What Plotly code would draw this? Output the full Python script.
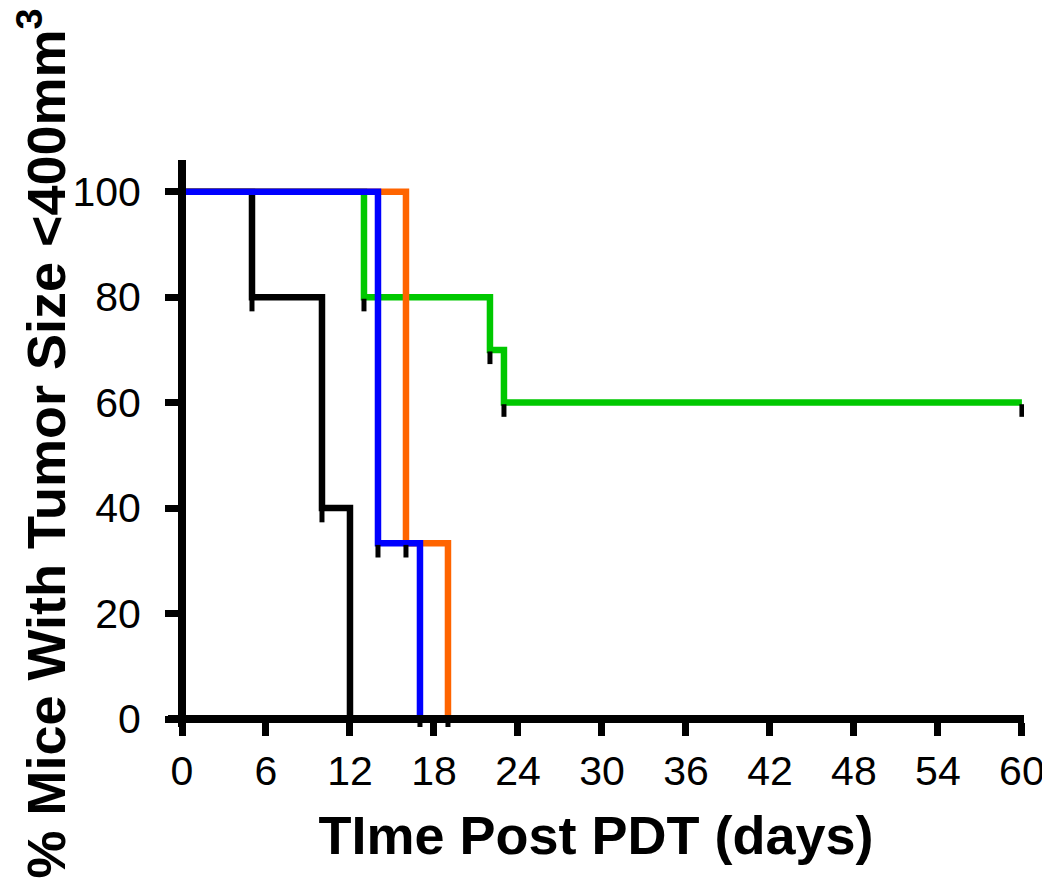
import plotly.graph_objects as go

# Kaplan-Meier style step data (time in days, % mice with tumor < 400 mm^3)
black_t = [0, 5, 10, 12]
black_v = [100, 80, 40, 0]
green_t = [0, 13, 22, 23, 60]
green_v = [100, 80, 70, 60, 60]
orange_t = [0, 16, 19]
orange_v = [100, 33.33, 0]
blue_t = [0, 14, 17]
blue_v = [100, 33.33, 0]

x_ticks = [0, 6, 12, 18, 24, 30, 36, 42, 48, 54, 60]
y_ticks = [0, 20, 40, 60, 80, 100]

series = [
    ("black", black_t, black_v, "#000000"),
    ("green", green_t, green_v, "#00C800"),
    ("orange", orange_t, orange_v, "#FF6400"),
    ("blue", blue_t, blue_v, "#0000FF"),
]

x_range = [-1.0, 60.15]
y_range = [-1.5, 106.0]
mark_shift = 1.5  # censor ticks hang just below the curve

fig = go.Figure()
for name, t, v, c in series:
    fig.add_trace(go.Scatter(
        x=t, y=v, mode="lines", line=dict(color=c, width=6.5, shape="hv"),
        name=name, showlegend=False, hoverinfo="skip",
    ))

# censor tick marks (all steps after the start)
for name, t, v, c in series:
    fig.add_trace(go.Scatter(
        x=t[1:], y=v[1:], mode="markers", yaxis="y2",
        marker=dict(symbol="line-ns", size=9, line=dict(color="#000000", width=5)),
        showlegend=False, hoverinfo="skip",
    ))

font_fam = "Arial, Liberation Sans, Helvetica, sans-serif"
fig.update_layout(
    width=1050, height=881,
    margin=dict(l=160, r=34, t=152, b=162),
    paper_bgcolor="white", plot_bgcolor="white",
    font=dict(family=font_fam, color="black"),
    xaxis=dict(
        range=x_range, anchor="free", automargin=False,
        position=(0 - y_range[0]) / (y_range[1] - y_range[0]),
        showline=True, linewidth=8, linecolor="black",
        ticks="outside", ticklen=13, tickwidth=7, tickcolor="black",
        tickvals=x_ticks, ticktext=[str(v) for v in x_ticks],
        tickfont=dict(size=41, family=font_fam, color="black"),
        showgrid=False, zeroline=False,
        title=dict(text="<b>TIme Post PDT (days)</b>",
                   font=dict(size=54, family=font_fam, color="black"), standoff=22),
    ),
    yaxis=dict(
        range=y_range, anchor="free", automargin=False,
        position=(0 - x_range[0]) / (x_range[1] - x_range[0]),
        showline=True, linewidth=8, linecolor="black",
        ticks="outside", ticklen=13, tickwidth=7, tickcolor="black",
        tickvals=y_ticks, ticktext=[str(v) for v in y_ticks],
        tickfont=dict(size=41, family=font_fam, color="black"),
        ticklabelstandoff=16,
        showgrid=False, zeroline=False,
        title=dict(text="<b>% Mice With Tumor Size <400mm<sup>3</sup></b>",
                   font=dict(size=54, family=font_fam, color="black"), standoff=10),
    ),
    yaxis2=dict(
        range=[y_range[0] + mark_shift, y_range[1] + mark_shift],
        overlaying="y", visible=False, anchor="x", automargin=False,
    ),
)

fig.write_html("out.html")
